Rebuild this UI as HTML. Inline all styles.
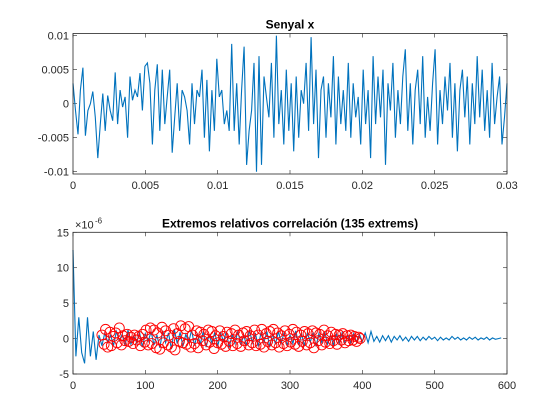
<!DOCTYPE html>
<html><head><meta charset="utf-8"><style>
body{margin:0;background:#fff;}
svg{display:block;font-family:"Liberation Sans",Arial,sans-serif;}
</style></head><body>
<svg id="chart" width="560" height="420" viewBox="0 0 560 420" xmlns="http://www.w3.org/2000/svg">
<rect width="560" height="420" fill="#fff"/>
<g id="top"></g>
<g id="bot"></g>
</svg>
<script>
const sigValues=[3,-1,-4.5,2,5.3,-4.7,-1,0,1.8,-2,-8,-3,1.5,-4,1.2,-1,-2.5,4.6,-3,2,-0.5,1,-5,4,0.5,2,1,4.5,-1,5.5,6,3,-6,2,5.8,-4,5,-3,1,5,-7.2,-2,3,-4,2,1,-1,-6,3,-3,2,1,5,-5,3.5,-7,2,-4,6.6,1,2,-3,-1,-4,8.8,-4,3,-6,2,8.4,-9,-4,-1,6,-10,7,-9,4,1,-2,6,-5,10,-3,2,-6,5,-4,3,-7,4,-5,2,0,6,-4,9.8,-3,5,-8,2,4,-5,3,-2,7,-6,4,-3,2,-4,6,-5,3,-2,1,-6,5,-3,2,-8,7,-3,4,-2,5,-9,3,-1,6,-5,2,-3,4,8,-4,3,-6,2,5,-3,7,-5,1,-4,3,8,-6,2,-3,4,-1,6,-5,3,-7,2,5,-2,4,-6,3,-3,7,-2,5,-4,2,-5,6,-3,1,4,-6,-2,3];
const sigXTicks=[0,0.005,0.01,0.015,0.02,0.025,0.03];
const sigXLabels=["0","0.005","0.01","0.015","0.02","0.025","0.03"];
const sigYTicks=[-0.01,-0.005,0,0.005,0.01];
const sigYLabels=["-0.01","-0.005","0","0.005","0.01"];
const corrValues=[12.5,-2.5,3,-2,-3.5,3,-2.5,1,-3,0.5,-1,0.8,-0.5,0.5,-1,1,-0.3,0.6,-1,1.2,-0.8,0.4,-0.6,0.9,-1.2,0.7,-0.4,1,-0.9,0.5,-1.3,1.1,-0.6,0.8,-1.5,1.3,-0.7,0.9,-1.1,0.6,-0.5,1.2,-1,0.7,-0.8,1,-1.2,0.5,-0.6,0.9,-1.1,0.8,-0.4,1,-1.3,0.6,-0.7,1.1,-0.9,0.5,-1,1.2,-0.6,0.8,-1.1,0.9,-0.5,1,-1.2,0.7,-0.8,1,-0.6,0.9,-1,0.5,-0.7,1.1,-0.9,0.6,-1,0.8,-0.5,0.9,-1.1,0.7,-0.6,1,-0.8,0.5,-0.9,0.7,-0.6,0.8,-0.7,0.5,-0.6,0.7,-0.5,0.6,-0.4,0.8,-0.6,1,-0.4,0.3,-0.5,0.4,-0.3,0.4,-0.5,0.3,-0.2,0.4,-0.3,0.2,-0.4,0.3,-0.2,0.3,-0.3,0.2,-0.2,0.3,-0.1,0.2,-0.3,0.2,-0.2,0.1,-0.2,0.3,-0.1,0.2,-0.2,0.1,-0.2,0.2,-0.1,0.2,-0.2,0.1,-0.1,0.2,-0.2,0.1,-0.1,0,0.1];
const corrStep=4;
const markerX=[40,43,45,48,51,53,56,59,61,64,67,69,72,75,77,80,83,85,88,91,93,96,99,101,104,107,109,112,115,117,120,123,125,128,131,133,136,139,141,144,147,149,152,155,157,160,163,165,168,171,173,176,179,181,184,187,189,192,195,197,200,203,205,208,211,213,216,219,221,224,227,229,232,235,237,240,243,245,248,251,253,256,259,261,264,267,269,272,275,277,280,283,285,288,291,293,296,299,301,304,307,309,312,315,317,320,323,325,328,331,333,336,339,341,344,347,349,352,355,357,360,363,365,368,371,373,376,379,381,384,387,389,392,395,397];
const markerY=[0.5,-0.8,1.3,-1.2,0.9,-1,0.3,0.8,-0.6,1.5,-0.9,0.4,-0.3,0.6,-0.4,0.2,-0.7,0.5,-0.2,0.3,-1,0.6,-0.5,1.2,-0.9,1.5,-0.7,1.2,-1.3,0.8,-1.5,1.6,-0.6,1.1,-0.9,0.5,-1.2,1.4,-1.6,0.7,-0.4,1.8,-0.6,1.4,-0.8,1.7,-1.2,0.5,-0.7,1.1,-1.3,0.9,-0.3,0.6,-0.9,1.2,-0.5,1,-1.4,0.4,-0.6,1.1,-0.8,0.3,-1.1,0.9,-0.4,0.7,-1,1.2,-0.7,0.5,-1.1,0.8,-0.3,1,-0.9,0.4,-0.6,1.2,-1,0.5,-0.8,1.3,-1.2,0.7,-0.4,1,-0.9,1.3,-0.6,0.8,-1.2,0.4,-0.7,1.1,-1,0.6,-0.5,1.3,-0.8,0.9,-1.1,0.5,-0.4,1,-0.9,0.7,-0.6,1.1,-1.3,0.8,-0.3,0.6,-0.9,1.2,-0.5,0.4,-0.7,0.9,-0.3,0.6,-0.8,0.5,-0.2,0.7,-0.6,0.4,-0.3,0.5,-0.2,0.3,-0.4,0.2,0];
const corrXTicks=[0,100,200,300,400,500,600];
const corrYTicks=[-5,0,5,10,15];

const NS="http://www.w3.org/2000/svg";
function mk(parent,tag,attrs,txt){const e=document.createElementNS(NS,tag);for(const k in attrs)e.setAttribute(k,attrs[k]);if(txt!==undefined)e.textContent=txt;parent.appendChild(e);return e;}

function axes(g,L,R,T,B,xs,ys,xt,xl,yt,yl,title){
  mk(g,'rect',{x:L,y:T,width:R-L,height:B-T,fill:'#fff',stroke:'none'});
  const tk=g.appendChild(document.createElementNS(NS,'g'));
  xt.forEach((v,i)=>{const x=xs(v);
    mk(tk,'line',{x1:x,x2:x,y1:B,y2:B-4,stroke:'#262626','stroke-width':0.6});
    mk(tk,'line',{x1:x,x2:x,y1:T,y2:T+4,stroke:'#262626','stroke-width':0.6});
    const t=mk(g,'text',{x:x,y:B+15,'text-anchor':'middle','font-size':11,fill:'#262626'},xl[i]);
    
    
  });
  yt.forEach((v,i)=>{const y=ys(v);
    mk(tk,'line',{x1:L,x2:L+4,y1:y,y2:y,stroke:'#262626','stroke-width':0.6});
    mk(tk,'line',{x1:R,x2:R-4,y1:y,y2:y,stroke:'#262626','stroke-width':0.6});
    const t=mk(g,'text',{x:L-4,y:y+4,'text-anchor':'end','font-size':11,fill:'#262626'},yl[i]);
    
    
  });
  const tt=mk(g,'text',{x:(L+R)/2,y:T-5,'text-anchor':'middle','font-size':12,'font-weight':'bold',fill:'#000'},title);
  
  
}
function frame(g,L,R,T,B){const f=mk(g,'rect',{x:L,y:T,width:R-L,height:B-T,fill:'none',stroke:'#262626','stroke-width':0.8});
  
  }

// top
(function(){
  const g=document.getElementById('top');
  const L=73,R=507,T=33.5,B=174;
  const xs=v=>L+(v/0.03)*(R-L);
  const ys=v=>103.7-(v/0.01)*68;
  axes(g,L,R,T,B,xs,ys,sigXTicks,sigXLabels,sigYTicks,sigYLabels,'Senyal x');
  const n=sigValues.length;
  const pts=sigValues.map((v,i)=>xs(i*0.03/(n-1)).toFixed(1)+','+ys(v*0.001).toFixed(1)).join(' ');
  const p=mk(g,'polyline',{points:pts,fill:'none',stroke:'#0072BD','stroke-width':1.1});
  
  
  frame(g,L,R,T,B);
})();
// bottom
(function(){
  const g=document.getElementById('bot');
  const L=73,R=507,T=232.3,B=374;
  const xs=v=>L+(v/600)*(R-L);
  const ys=v=>T+(15-v)/20*(B-T);
  axes(g,L,R,T,B,xs,ys,corrXTicks,corrXTicks.map(String),corrYTicks,corrYTicks.map(String),'Extremos relativos correlación (135 extrems)');
  const pts=corrValues.map((v,i)=>xs(i*corrStep).toFixed(1)+','+ys(v).toFixed(1)).join(' ');
  const p=mk(g,'polyline',{points:pts,fill:'none',stroke:'#0072BD','stroke-width':1.1});
  
  
  markerX.forEach((x,i)=>{
    const c=mk(g,'circle',{cx:xs(x),cy:ys(markerY[i]),r:5,fill:'none',stroke:'#FF0000','stroke-width':0.9});
    
    
  });
  const e=mk(g,'text',{x:L+2,y:T-4,'font-size':11,fill:'#262626'},'×10');
  
  
  const s=mk(g,'text',{x:L+22,y:T-9,'font-size':8,fill:'#262626'},'-6');
  
  
  frame(g,L,R,T,B);
})();
</script>
</body></html>
